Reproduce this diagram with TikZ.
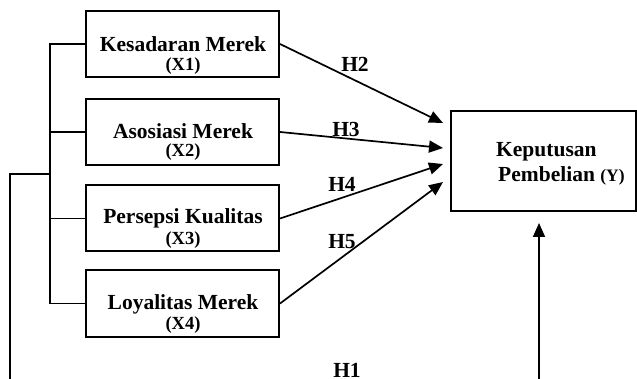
\documentclass[tikz,border=0pt]{standalone}
\usepackage{fontspec}
\setmainfont{Liberation Serif}
\usetikzlibrary{arrows.meta}
\begin{document}
\begin{tikzpicture}[x=1pt,y=-1pt,
  box/.style={draw,line width=2pt,minimum width=193pt,minimum height=66pt,inner sep=0pt},
  ybox/.style={draw,line width=2pt,minimum width=185pt,minimum height=100pt,inner sep=0pt},
  big/.style={font=\bfseries\fontsize{21.5}{24}\selectfont,inner sep=0pt,anchor=base},
  small/.style={font=\bfseries\fontsize{18.5}{20}\selectfont,inner sep=0pt,anchor=base},
  conn/.style={line width=1.7pt},
  arr/.style={line width=1.7pt,-{Triangle[length=14pt,width=12pt]}}]
\useasboundingbox (0,0) rectangle (637,379);
% boxes
\node[box] (x1) at (182.5,44) {};
\node[box] (x2) at (182.5,132) {};
\node[box] (x3) at (182.5,218.5) {};
\node[box] (x4) at (182.5,303.5) {};
\node[ybox] (y) at (543.5,161) {};
% texts
\node[big] (t1) at (183,52) {Kesadaran Merek};
\node[small] (s1) at (183,71) {(X1)};
\node[big] (t2) at (183,139) {Asosiasi Merek};
\node[small] (s2) at (183,157) {(X2)};
\node[big] (t3) at (183,224) {Persepsi Kualitas};
\node[small] (s3) at (183,245) {(X3)};
\node[big] (t4) at (183,309) {Loyalitas Merek};
\node[small] (s4) at (183,330) {(X4)};
\node[big,anchor=base west] (ty1) at (496,157) {Keputusan};
\node[big,anchor=base west] (ty2) at (498,182) {Pembelian \fontsize{17.5}{18}\selectfont(Y)};
% hypothesis labels
\node[big,anchor=center] (h2) at (355,64) {H2};
\node[big,anchor=center] (h3) at (346,129) {H3};
\node[big,anchor=center] (h4) at (342,184) {H4};
\node[big,anchor=center] (h5) at (342,242) {H5};
\node[big] (h1) at (347,377) {H1};
% arrow targets
\coordinate (p2) at (443,123);
\coordinate (p3) at (443,148);
\coordinate (p4) at (443,164);
\coordinate (p5) at (443,182);
\coordinate (p1) at (539,223);
\coordinate (q1) at (539,379);
\coordinate (bl) at (10,379);
\coordinate (bj) at (51,174);
% bracket
\draw[conn] (x1.west) -- ++(-35,0) |- (x4.west);
\draw[conn] (x2.west) -- ++(-35,0);
\draw[conn] (x3.west) -- ++(-35,0);
\draw[conn] (bl) |- (bj);
% arrows
\draw[arr] (x1.east) -- (p2);
\draw[arr] (x2.east) -- (p3);
\draw[arr] (x3.east) -- (p4);
\draw[arr] (x4.east) -- (p5);
\draw[arr] (q1) -- (p1);
\end{tikzpicture}
\end{document}
